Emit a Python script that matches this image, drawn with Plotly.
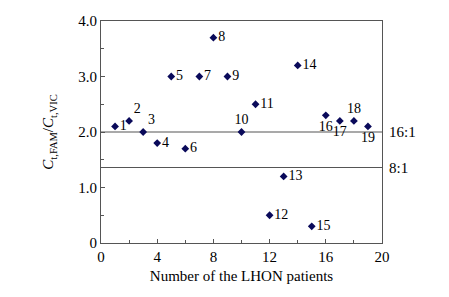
import plotly.graph_objects as go

patients = list(range(1, 20))
ratio = [2.1, 2.2, 2.0, 1.8, 3.0, 1.7, 3.0, 3.7, 3.0, 2.0, 2.5, 0.5, 1.2, 3.2, 0.3, 2.3, 2.2, 2.2, 2.1]
labels = [str(p) for p in patients]
ref_values = [2.0, 1.36]
ref_labels = ["16:1", "8:1"]
x_ticks = [0, 4, 8, 12, 16, 20]
y_ticks = [0, 1, 2, 3, 4]
y_ticklabels = ["0", "1.0", "2.0", "3.0", "4.0"]

label_pos = ["middle right", "top right", "top right", "middle right", "middle right",
             "middle right", "middle right", "middle right", "middle right", "top center",
             "middle right", "middle right", "middle right", "middle right", "middle right",
             "bottom center", "bottom center", "top center", "bottom center"]

FONT = "Liberation Serif, Times New Roman, serif"

fig = go.Figure()
for v in ref_values:
    fig.add_trace(go.Scatter(x=[0, 20], y=[v, v], mode="lines",
                             line=dict(color="#555555", width=1.2),
                             showlegend=False, hoverinfo="skip"))
fig.add_trace(go.Scatter(
    x=patients, y=ratio, mode="markers+text", text=labels,
    textposition=label_pos,
    textfont=dict(family=FONT, size=14, color="#000000"),
    marker=dict(symbol="diamond", size=6, color="#0a0a5a"),
    showlegend=False))

for v, t in zip(ref_values, ref_labels):
    fig.add_annotation(x=1.0, xref="paper", xanchor="left", xshift=5,
                       y=v, yref="y", text=t, showarrow=False,
                       font=dict(family=FONT, size=15, color="#000000"))

fig.update_layout(
    width=449, height=297,
    margin=dict(l=101, r=67, t=21, b=54, autoexpand=False),
    paper_bgcolor="white", plot_bgcolor="white",
    font=dict(family=FONT, size=14, color="#000000"),
    xaxis=dict(range=[0, 20], tickvals=x_ticks, ticks="inside", ticklen=4,
               automargin=False,
               tickcolor="#555555", showline=True, linecolor="#555555",
               linewidth=1.2, mirror=True, showgrid=False, zeroline=False,
               minor=dict(dtick=2, ticks="inside", ticklen=3, tickcolor="#555555"),
               title=dict(text="Number of the LHON patients", standoff=6,
                          font=dict(family=FONT, size=15)),
               tickfont=dict(family=FONT, size=15)),
    yaxis=dict(range=[0, 4], tickvals=y_ticks, ticktext=y_ticklabels,
               automargin=False,
               ticks="inside", ticklen=4, tickcolor="#555555",
               showline=True, linecolor="#555555", linewidth=1.2, mirror=True,
               showgrid=False, zeroline=False,
               minor=dict(dtick=0.5, ticks="inside", ticklen=3, tickcolor="#555555"),
               title=dict(text="<i>C</i><sub>t,FAM</sub>/<i>C</i><sub>t,VIC</sub>",
                          standoff=20, font=dict(family=FONT, size=15)),
               tickfont=dict(family=FONT, size=15)),
)

fig.write_html("out.html", config={"displayModeBar": False},
               post_script="document.body.style.margin='0';document.body.style.overflow='hidden';")
